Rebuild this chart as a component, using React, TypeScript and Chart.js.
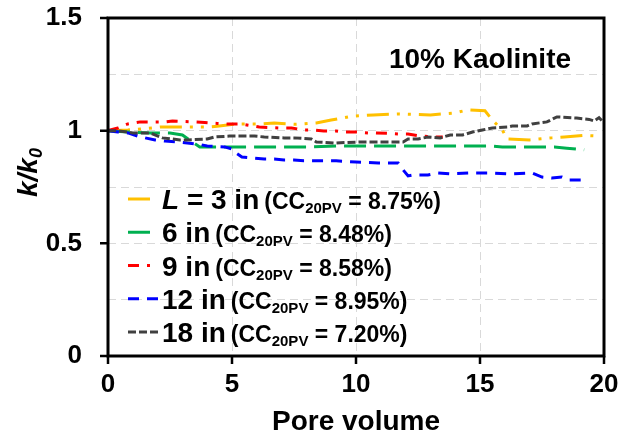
import React, { useEffect, useRef } from "react";
import { Chart, registerables } from "chart.js";

Chart.register(...registerables);

const FONT = "'Liberation Sans', Arial, Helvetica, sans-serif";

// ---- data ----
const xTickValues = [0, 5, 10, 15, 20];
const yMajorTicks = [0, 0.5, 1, 1.5];

const lengthLabels = ["3 in", "6 in", "9 in", "12 in", "18 in"];
const ccValues = ["8.75%", "8.48%", "8.58%", "8.95%", "7.20%"];
const seriesColors = ["#FFC000", "#00B050", "#FF0000", "#0000FF", "#404040"];
const seriesDashes = [
  [22, 8, 3, 8, 3, 8],
  [22, 8],
  [11, 8, 3, 8],
  [11, 8],
  [8, 3],
];

// [pore volume, k/k0]
const kL3: [number, number][] = [
  [0, 1.0], [0.8, 1.003], [1.4, 1.008], [2.1, 1.016], [3.0, 1.016], [4.0, 1.016],
  [4.4, 1.02], [5.2, 1.03], [6.2, 1.03], [6.7, 1.034], [7.6, 1.028], [8.4, 1.034],
  [9.0, 1.047], [9.9, 1.065], [10.7, 1.07], [11.7, 1.074], [13.0, 1.07], [14.0, 1.079],
  [14.5, 1.092], [15.2, 1.088], [15.5, 1.047], [15.9, 1.003], [16.1, 0.963], [17.0, 0.959],
  [17.9, 0.968], [18.4, 0.972], [19.2, 0.979], [19.8, 0.976],
];
const kL6: [number, number][] = [
  [0, 1.0], [0.8, 0.994], [1.7, 0.99], [2.5, 0.99], [3.0, 0.981], [3.4, 0.95],
  [3.7, 0.928], [4.8, 0.928], [6.0, 0.928], [7.0, 0.928], [8.0, 0.928], [9.4, 0.932],
  [10.5, 0.932], [12.0, 0.932], [13.5, 0.932], [15.4, 0.932], [15.9, 0.928], [17.0, 0.928],
  [18.0, 0.928], [18.5, 0.922], [19.2, 0.915],
];
const kL9: [number, number][] = [
  [0, 1.0], [0.4, 1.012], [0.8, 1.03], [1.3, 1.039], [1.7, 1.039], [2.3, 1.039],
  [2.6, 1.043], [3.0, 1.041], [3.4, 1.039], [3.9, 1.036], [4.4, 1.032], [4.8, 1.03],
  [5.3, 1.03], [5.6, 1.025], [6.1, 1.016], [6.5, 1.014], [6.9, 1.012], [7.4, 1.012],
  [7.9, 1.003], [8.2, 1.003], [8.7, 0.999], [9.2, 0.999], [9.5, 0.994], [10.0, 0.994],
  [10.5, 0.99], [10.8, 0.99], [11.3, 0.988], [11.8, 0.985], [12.1, 0.985], [12.6, 0.976],
  [13.2, 0.972], [13.5, 0.972],
];
const kL12: [number, number][] = [
  [0, 1.0], [0.4, 0.994], [0.8, 0.99], [1.2, 0.976], [1.5, 0.968], [1.9, 0.959],
  [2.3, 0.954], [2.8, 0.95], [3.2, 0.945], [3.6, 0.941], [4.0, 0.932], [4.7, 0.928],
  [5.0, 0.919], [5.1, 0.905], [5.4, 0.883], [5.8, 0.879], [6.3, 0.874], [6.7, 0.874],
  [7.1, 0.87], [7.5, 0.87], [7.9, 0.866], [8.4, 0.866], [9.2, 0.866], [10.0, 0.861],
  [10.9, 0.857], [11.7, 0.857], [11.9, 0.826], [12.1, 0.799], [12.3, 0.803], [12.9, 0.803],
  [13.3, 0.812], [13.8, 0.808], [14.6, 0.812], [15.4, 0.812], [16.2, 0.808], [17.1, 0.812],
  [17.5, 0.794], [17.9, 0.79], [18.3, 0.794], [18.6, 0.781], [19.2, 0.781],
];
const kL18: [number, number][] = [
  [0, 1.0], [0.4, 0.999], [0.8, 0.994], [1.0, 0.99], [1.7, 0.99], [2.2, 0.968],
  [2.9, 0.959], [3.2, 0.959], [4.0, 0.963], [4.3, 0.972], [4.9, 0.976], [5.9, 0.976],
  [6.3, 0.972], [7.1, 0.968], [7.5, 0.968], [8.2, 0.963], [8.4, 0.95], [9.1, 0.945],
  [10.2, 0.95], [11.3, 0.95], [11.9, 0.95], [12.1, 0.963], [12.5, 0.963], [12.9, 0.972],
  [13.4, 0.968], [13.8, 0.981], [14.3, 0.981], [14.7, 0.994], [15.1, 1.003], [15.5, 1.012],
  [16.1, 1.016], [16.3, 1.021], [16.9, 1.021], [17.1, 1.03], [17.7, 1.039], [18.1, 1.061],
  [18.9, 1.056], [19.4, 1.05], [19.6, 1.043], [19.8, 1.058], [20.0, 1.035],
];
const seriesData = [kL3, kL6, kL9, kL12, kL18];

const decorPlugin = {
  id: "decor",
  afterDatasetsDraw(chart: any) {
    const { ctx, chartArea: ca, scales } = chart;
    const xs = scales.x;
    const ys = scales.y;
    ctx.save();
    ctx.setLineDash([]);
    ctx.strokeStyle = "#000";
    ctx.lineWidth = 3;
    ctx.lineCap = "butt";
    ctx.strokeRect(ca.left, ca.top, ca.right - ca.left, ca.bottom - ca.top);
    ctx.lineWidth = 2.5;
    ctx.beginPath();
    for (const v of xTickValues) {
      const px = xs.getPixelForValue(v);
      ctx.moveTo(px, ca.bottom);
      ctx.lineTo(px, ca.bottom + 8);
    }
    for (const v of yMajorTicks) {
      const py = ys.getPixelForValue(v);
      ctx.moveTo(ca.left - 8, py);
      ctx.lineTo(ca.left, py);
    }
    ctx.stroke();

    // panel label
    ctx.fillStyle = "#000";
    ctx.textAlign = "center";
    ctx.textBaseline = "alphabetic";
    ctx.font = `bold 28px ${FONT}`;
    ctx.fillText("10% Kaolinite", 480, 68);

    // y axis title k/k0
    ctx.save();
    ctx.translate(37, 197);
    ctx.rotate(-Math.PI / 2);
    ctx.textAlign = "left";
    ctx.font = `italic bold 28px ${FONT}`;
    ctx.fillText("k/k", 0, 0);
    const wk = ctx.measureText("k/k").width;
    ctx.font = `italic bold 18px ${FONT}`;
    ctx.fillText("0", wk, 5);
    ctx.restore();

    // legend
    ctx.textAlign = "left";
    lengthLabels.forEach((lab, i) => {
      const yb = 209 + i * 33.25;
      const ly = yb - 10;
      ctx.strokeStyle = seriesColors[i];
      ctx.lineWidth = 3;
      ctx.setLineDash(seriesDashes[i]);
      ctx.beginPath();
      ctx.moveTo(128, ly);
      ctx.lineTo(158, ly);
      ctx.stroke();
      ctx.setLineDash([]);
      ctx.fillStyle = "#000";
      let x = 162;
      if (i === 0) {
        ctx.font = `italic bold 28px ${FONT}`;
        ctx.fillText("L", x, yb);
        x += ctx.measureText("L").width;
        ctx.font = `bold 28px ${FONT}`;
        const t = " = " + lab;
        ctx.fillText(t, x, yb);
        x += ctx.measureText(t).width;
      } else {
        ctx.font = `bold 28px ${FONT}`;
        ctx.fillText(lab, x, yb);
        x += ctx.measureText(lab).width;
      }
      x += 5;
      ctx.font = `bold 23px ${FONT}`;
      ctx.fillText("(CC", x, yb);
      x += ctx.measureText("(CC").width;
      ctx.font = `bold 15px ${FONT}`;
      ctx.fillText("20PV", x, yb + 4);
      x += ctx.measureText("20PV").width;
      ctx.font = `bold 23px ${FONT}`;
      ctx.fillText(" = " + ccValues[i] + ")", x, yb);
    });
    ctx.restore();
  },
};

export default function App() {
  const ref = useRef<HTMLCanvasElement | null>(null);
  useEffect(() => {
    document.body.style.margin = "0";
    const canvas = ref.current;
    if (!canvas) return;
    const chart = new Chart(canvas, {
      type: "line",
      data: {
        datasets: seriesData.map((d, i) => ({
          label: lengthLabels[i],
          data: d.map(([x, y]) => ({ x, y })),
          borderColor: seriesColors[i],
          backgroundColor: seriesColors[i],
          borderWidth: 3,
          borderDash: seriesDashes[i],
          borderCapStyle: "butt" as const,
          pointRadius: 0,
          tension: 0,
          fill: false,
          order: 5 - i,
        })),
      },
      options: {
        animation: false,
        responsive: false,
        devicePixelRatio: 1,
        layout: { padding: { left: 0, top: 18, right: 29, bottom: 0 } },
        plugins: { legend: { display: false }, tooltip: { enabled: false } },
        scales: {
          x: {
            type: "linear",
            min: 0,
            max: 20,
            afterFit: (s: any) => {
              s.height = 84;
              s.paddingLeft = 0;
              s.paddingRight = 0;
            },
            ticks: {
              stepSize: 5,
              color: "#000",
              padding: 13,
              font: { family: FONT, size: 26, weight: "bold" },
            },
            grid: {
              drawTicks: false,
              lineWidth: 1,
              color: (c: any) =>
                c.tick && (c.tick.value === 0 || c.tick.value === 20) ? "rgba(0,0,0,0)" : "#D9D9D9",
            },
            border: { display: false, dash: [8, 5] },
            title: {
              display: true,
              text: "Pore volume",
              color: "#000",
              font: { family: FONT, size: 28, weight: "bold" },
              padding: { top: 0, bottom: 1 },
            },
          },
          y: {
            type: "linear",
            min: 0,
            max: 1.5,
            afterFit: (s: any) => {
              s.width = 108;
              s.paddingTop = 0;
              s.paddingBottom = 0;
            },
            ticks: {
              stepSize: 0.25,
              color: "#000",
              padding: 26,
              font: { family: FONT, size: 26, weight: "bold" },
              callback: (v: any) => (Math.round(Number(v) * 4) % 2 === 0 ? String(v) : ""),
            },
            grid: {
              drawTicks: false,
              lineWidth: 1,
              color: (c: any) =>
                c.tick && (c.tick.value === 0 || c.tick.value === 1.5) ? "rgba(0,0,0,0)" : "#D9D9D9",
            },
            border: { display: false, dash: [8, 5] },
          },
        },
      },
      plugins: [decorPlugin],
    });
    return () => chart.destroy();
  }, []);
  return (
    <div style={{ position: "fixed", left: 0, top: 0, width: 633, height: 440, background: "#fff" }}>
      <canvas ref={ref} width={633} height={440} style={{ display: "block", width: 633, height: 440 }} />
    </div>
  );
}
